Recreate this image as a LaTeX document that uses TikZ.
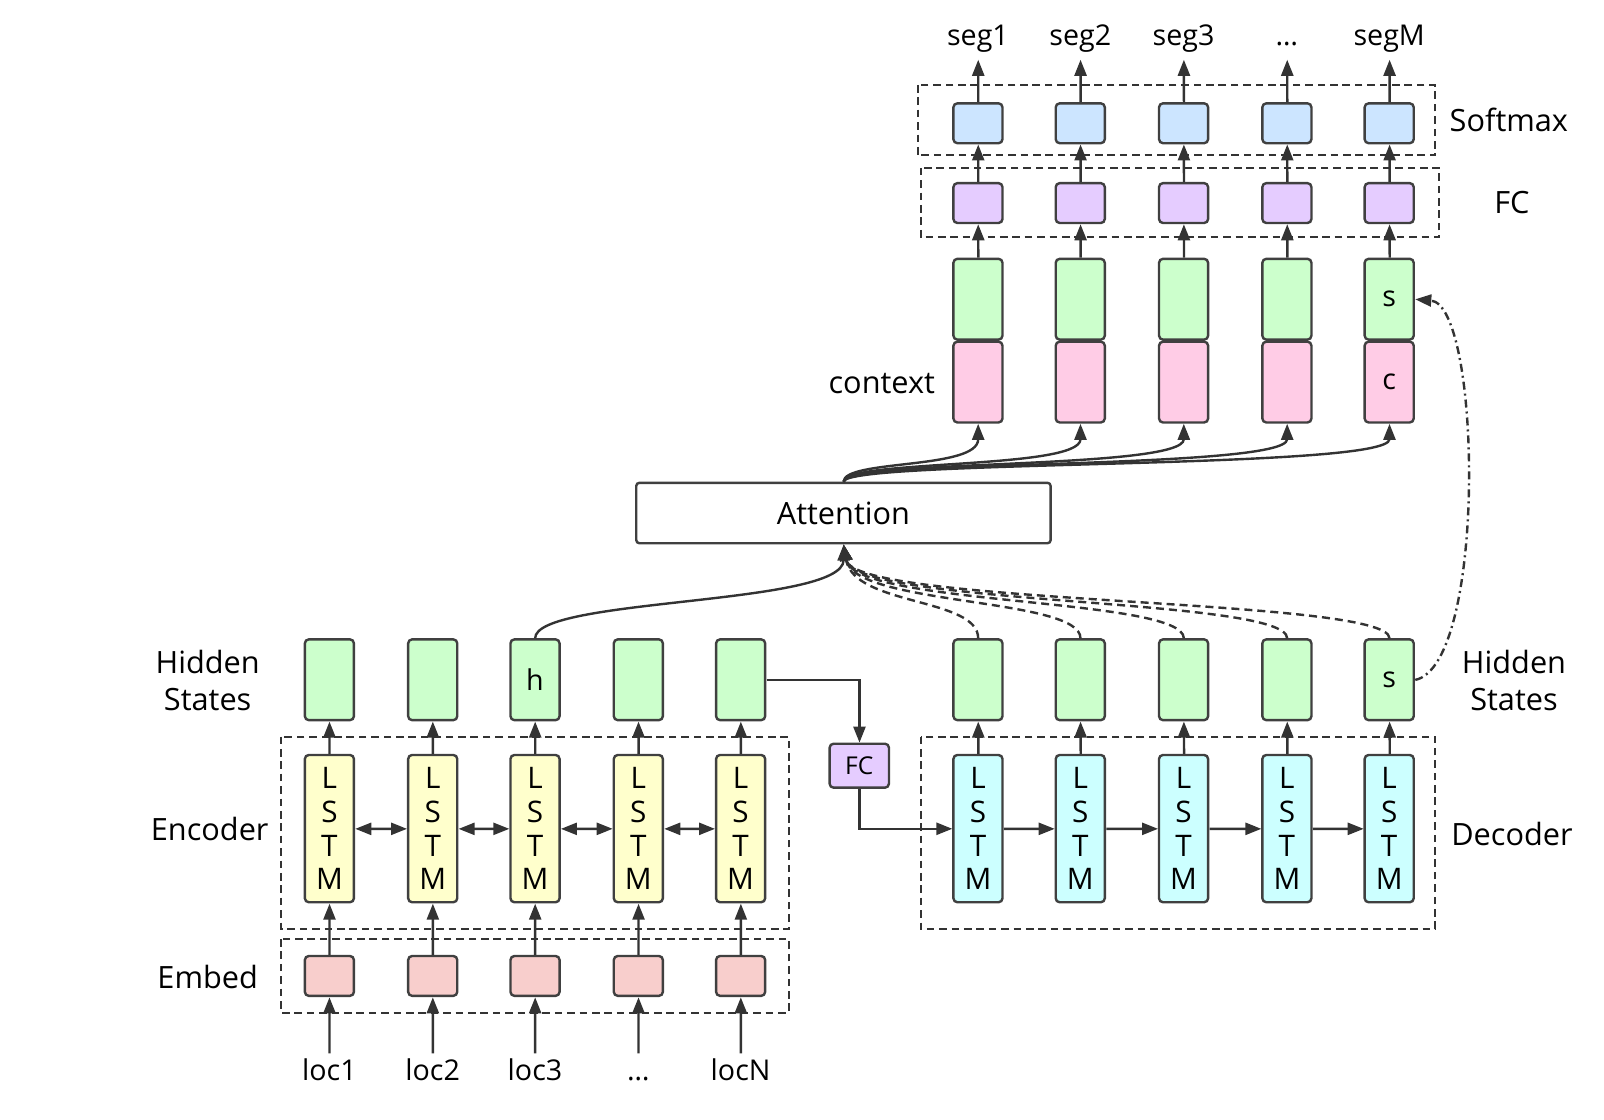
\documentclass[tikz,border=0pt]{standalone}
\usepackage{fontspec}
\setmainfont{Open Sans}
\usetikzlibrary{arrows.meta}

\definecolor{hidgreen}{HTML}{CCFFCC}
\definecolor{lstmyel}{HTML}{FFFFCC}
\definecolor{lstmcyan}{HTML}{CCFFFF}
\definecolor{embred}{HTML}{F8CECC}
\definecolor{ctxpink}{HTML}{FFCCE6}
\definecolor{smblue}{HTML}{CCE5FF}
\definecolor{fcpurple}{HTML}{E5CCFF}

\begin{document}
\begin{tikzpicture}[x=0.5pt, y=-0.5pt, scale=1.023, transform shape, font=\fontsize{15}{18}\selectfont,
    >={Triangle[length=8pt,width=6pt]},
    cell/.style={draw=black!75, line width=1.2pt, rounded corners=2pt, minimum width=24pt, inner sep=0pt},
    lstm/.style={cell, minimum height=72pt, align=center, font=\fontsize{14.5}{16.5}\selectfont},
    tall/.style={cell, minimum height=39.5pt, font=\fontsize{14}{14}\selectfont},
    sq/.style={cell, minimum height=19.5pt},
    grp/.style={draw=black!80, line width=1pt, dash pattern=on 3.8pt off 2.4pt},
    line/.style={draw=black!80, line width=1.2pt},
    io/.style={font=\fontsize{14}{14}\selectfont, inner sep=3pt, text height=10pt, text depth=4pt},
]
\useasboundingbox (0,0) rectangle (1568,1094);

% encoder side
\foreach \i/\x/\t in {1/322/{},2/423/{},3/523/h,4/624/{},5/724/{}} {
    \node[sq, fill=embred] (emb\i) at (\x,954) {};
    \node[lstm, fill=lstmyel] (enc\i) at (\x,810) {L\\S\\T\\M};
    \node[tall, fill=hidgreen] (eh\i) at (\x,664.5) {\t};
    \draw[line, ->] (emb\i) -- (enc\i);
    \draw[line, ->] (enc\i) -- (eh\i);
}
\foreach \i/\x/\t in {1/322/loc1,2/423/loc2,3/523/loc3,4/624/\ldots,5/724/locN} {
    \node[io] (loc\i) at (\x,1050) {\t};
    \draw[line, ->] (loc\i) -- (emb\i);
}
\foreach \i in {1,...,4} {
    \pgfmathtruncatemacro{\j}{\i+1}
    \draw[line, <->] (enc\i) -- (enc\j);
}
\draw[grp] (275,720) rectangle (771,908);
\draw[grp] (275,918) rectangle (771,990);

% decoder side
\foreach \i/\x/\t in {1/956/{},2/1056/{},3/1157/{},4/1258/{},5/1358/s} {
    \node[lstm, fill=lstmcyan] (dec\i) at (\x,810) {L\\S\\T\\M};
    \node[tall, fill=hidgreen] (dh\i) at (\x,664.5) {\t};
    \draw[line, ->] (dec\i) -- (dh\i);
}
\foreach \i in {1,...,4} {
    \pgfmathtruncatemacro{\j}{\i+1}
    \draw[line, ->] (dec\i) -- (dec\j);
}
\draw[grp] (900,720) rectangle (1403,908);

% bridge
\node[cell, fill=fcpurple, minimum width=29pt, minimum height=21.5pt, font=\fontsize{12}{12}\selectfont] (fcb) at (840,748.5) {FC};
\draw[line, ->] (eh5.east) -| (fcb.north);
\draw[line, ->] (fcb.south) |- (dec1.west);

% output columns
\foreach \i/\x/\c/\s/\t in {1/956/{}/{}/seg1,2/1056/{}/{}/seg2,3/1157/{}/{}/seg3,4/1258/{}/{}/\ldots,5/1358/c/s/segM} {
    \node[tall, fill=ctxpink] (ctx\i) at (\x,373.5) {\c};
    \node[tall, fill=hidgreen] (st\i) at (\x,292.5) {\s};
    \node[sq, fill=fcpurple] (fc\i) at (\x,198.5) {};
    \node[sq, fill=smblue] (sm\i) at (\x,120.5) {};
    \node[io] (seg\i) at (\x,38) {\t};
    \draw[line, ->] (st\i) -- (fc\i);
    \draw[line, ->] (fc\i) -- (sm\i);
    \draw[line, ->] (sm\i) -- (seg\i);
}
\draw[grp] (897,83) rectangle (1403,152);
\draw[grp] (900,164) rectangle (1407,232);

% attention
\node[draw=black!75, line width=1.2pt, rounded corners=1.5pt, minimum width=202.5pt, minimum height=29.5pt] (att) at (824.5,501.5) {Attention};
\foreach \i in {1,...,5}
    \draw[line, ->] (att.north) .. controls +(0,-22) and +(0,45) .. (ctx\i.south);
\draw[line, ->] (eh3.north) .. controls +(0,-40) and +(0,60) .. (att.south);
\foreach \i in {1,...,5}
    \draw[line, ->, dash pattern=on 4pt off 2.5pt] (dh\i.north) .. controls +(0,-40) and +(10,60) .. (att.south);
\draw[line, ->, dash pattern=on 4pt off 2pt on 1pt off 2pt] (dh5.east) .. controls +(70,-15) and +(65,5) .. (st5.east);

% labels
\node[align=center] (lhid) at (203,665) {Hidden\\States};
\node (lenc) at (205,810) {Encoder};
\node (lemb) at (203,955) {Embed};
\node (lctx) at (862,375) {context};
\node (lsm) at (1475,117) {Softmax};
\node (lfc) at (1478,198) {FC};
\node[align=center] (rhid) at (1480,665) {Hidden\\States};
\node (ldec) at (1478,815) {Decoder};
\end{tikzpicture}
\end{document}
